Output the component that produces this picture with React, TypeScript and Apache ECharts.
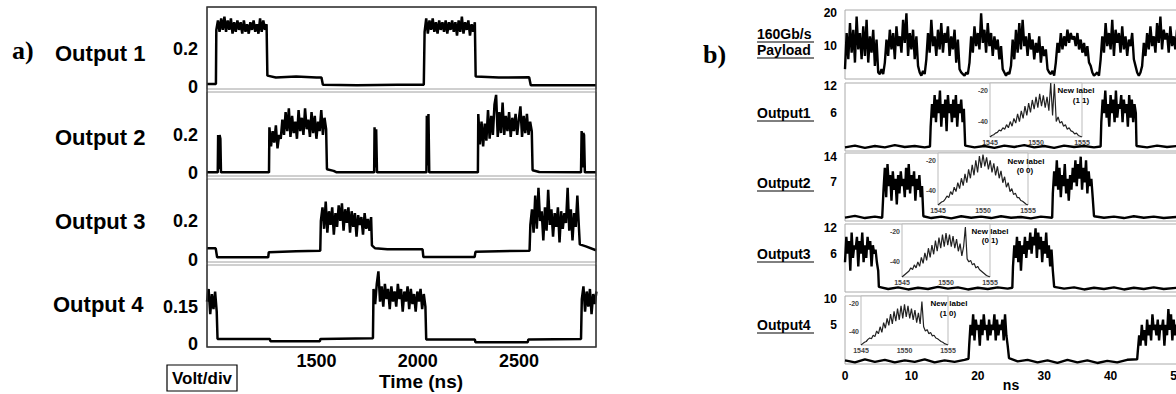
import React, { useEffect, useRef } from 'react';
import * as echarts from 'echarts';

type Pt = [number, number];
type Block = { t0: number; dt: number; v: number[] };
type Piece = Pt[] | Block;

// ---------------- Panel a) : time (ns) vs Volt ----------------
const A_X_LABELS = [1500, 2000, 2500];
const A_Y_LABELS = [[0, 0.2], [0, 0.2], [0, 0.2], [0, 0.15]];

const A1_ON1 = [0.30,0.35,0.29,0.36,0.30,0.37,0.29,0.35,0.30,0.36,0.28,0.34,0.29,0.35,0.30,0.34,0.28,0.35,0.29,0.33,0.28,0.34,0.30,0.35,0.29,0.33,0.28,0.36,0.29,0.35,0.30,0.33];
const A1_ON2 = [0.29,0.36,0.28,0.35,0.30,0.36,0.29,0.34,0.28,0.35,0.30,0.34,0.29,0.35,0.28,0.34,0.30,0.35,0.29,0.34,0.27,0.35,0.29,0.37,0.28,0.34,0.30,0.35,0.27,0.33,0.29,0.34];
const OUT_A1: Piece[] = [
  [[960,0.016],[1004,0.016]],
  { t0: 1006, dt: 8, v: A1_ON1 },
  [[1258,0.06],[1300,0.05],[1400,0.055],[1500,0.05],[1525,0.05],[1532,0.012],[1700,0.01],[1900,0.012],[2030,0.012]],
  { t0: 2034, dt: 8, v: A1_ON2 },
  [[2286,0.055],[2400,0.05],[2550,0.052],[2558,0.01],[2880,0.01]],
];

const A2_ON1 = [0.24,0.14,0.22,0.16,0.25,0.13,0.20,0.18,0.28,0.20,0.32,0.22,0.34,0.19,0.30,0.21,0.27,0.18,0.33,0.22,0.29,0.20,0.34,0.23,0.28,0.19,0.32,0.21,0.30,0.18,0.27,0.22,0.33,0.20,0.29,0.23];
const A2_ON2 = [0.31,0.15,0.27,0.14,0.26,0.17,0.33,0.18,0.30,0.20,0.36,0.41,0.19,0.32,0.21,0.37,0.20,0.30,0.22,0.32,0.19,0.29,0.22,0.31,0.20,0.28,0.35,0.19,0.30,0.21,0.31,0.20,0.27,0.22];
const OUT_A2: Piece[] = [
  [[960,0.004],[1013,0.004],[1015,0.2],[1018,0.02],[1022,0.2],[1026,0.18],[1029,0.004],[1266,0.004]],
  { t0: 1268, dt: 8, v: A2_ON1 },
  [[1552,0.02],[1585,0.012],[1600,0.004],[1785,0.004],[1787,0.24],[1791,0.03],[1795,0.23],[1799,0.004],
   [2043,0.004],[2045,0.30],[2049,0.04],[2053,0.31],[2057,0.004],[2297,0.004]],
  { t0: 2299, dt: 8, v: A2_ON2 },
  [[2567,0.015],[2600,0.006],[2806,0.004],[2809,0.22],[2813,0.03],[2817,0.21],[2821,0.20],[2825,0.004],[2880,0.004]],
];

const A3_ON1 = [0.20,0.27,0.16,0.30,0.14,0.25,0.18,0.27,0.13,0.24,0.17,0.28,0.20,0.29,0.15,0.26,0.19,0.27,0.14,0.25,0.17,0.24,0.12,0.23,0.18,0.22,0.13,0.24,0.16,0.21,0.15,0.22];
const A3_ON2 = [0.18,0.26,0.14,0.33,0.16,0.37,0.20,0.25,0.10,0.27,0.15,0.36,0.18,0.26,0.12,0.24,0.17,0.27,0.09,0.25,0.16,0.24,0.19,0.37,0.15,0.26,0.10,0.24,0.17,0.33,0.16];
const OUT_A3: Piece[] = [
  [[960,0.06],[1003,0.06],[1010,0.014],[1262,0.014],[1265,0.04],[1400,0.045],[1519,0.048]],
  { t0: 1522, dt: 8, v: A3_ON1 },
  [[1774,0.075],[1790,0.06],[1850,0.055],[2024,0.055],[2028,0.015],[2281,0.015],[2285,0.042],[2400,0.045],[2552,0.048]],
  { t0: 2556, dt: 8, v: A3_ON2 },
  [[2800,0.08],[2830,0.07],[2880,0.05]],
];

const A4_ON0 = [0.17,0.22,0.12,0.20,0.14,0.21,0.13];
const A4_ON1 = [0.22,0.16,0.24,0.29,0.17,0.23,0.15,0.24,0.18,0.22,0.14,0.23,0.17,0.21,0.15,0.24,0.18,0.22,0.13,0.21,0.17,0.23,0.14,0.22,0.16,0.20,0.13,0.21,0.17,0.22,0.14,0.20,0.15];
const A4_ON2 = [0.18,0.23,0.13,0.21,0.15,0.22,0.12,0.20,0.16,0.21];
const OUT_A4: Piece[] = [
  { t0: 960, dt: 8, v: A4_ON0 },
  [[1012,0.022],[1270,0.022],[1273,0.013],[1517,0.013],[1520,0.022],[1779,0.025]],
  { t0: 1782, dt: 8, v: A4_ON1 },
  [[2042,0.02],[2282,0.02],[2285,0.009],[2543,0.009],[2546,0.02],[2806,0.022]],
  { t0: 2810, dt: 8, v: A4_ON2 },
];

// ---------------- Panel b) : time (ns) ----------------
const B_X_LABELS = [0, 10, 20, 30, 40, 50];
const B_Y_LABELS = [[10, 20], [6, 12], [7, 14], [6, 12], [5, 10]];

const PAYLOAD = [
  3,14,6,17,8,15,5,19,9,14,6,16,7,18,5,13,8,15,4,12,
  2,1.5,3,1.5,
  5,12,7,15,9,14,6,16,10,13,8,18,11,20,7,14,9,15,6,13,4,
  2,1,2.5,1.5,
  6,14,8,18,10,13,7,15,9,17,8,14,11,16,7,13,9,15,5,12,3,
  2,1.5,1,2,1.5,
  5,13,8,16,10,14,9,20,11,15,8,17,10,14,7,13,9,12,6,10,3,
  2,1,2,1.5,
  4,12,6,15,8,17,9,18,10,13,7,14,9,12,6,11,8,13,5,10,7,9,3,
  2,1.5,2.5,1,
  5,11,8,14,9,13,10,15,11,14,12,13,10,14,9,12,8,11,7,10,5,4,
  2,1,1.5,2,1,
  6,13,8,17,10,14,9,18,7,15,11,14,8,16,9,13,7,12,10,14,6,4,
  2,1,2,
  4,11,7,14,9,16,10,13,8,17,11,19,9,15,12,14,8,16,10,13,9,15,
];
const OUT_B0: Piece[] = [{ t0: 0, dt: 0.25, v: PAYLOAD }];

const B1_ON1 = [3,8,5,10,4,9,6,11,3,8,5,9,2,10,6,8,4,9,5,10,3,8,6,9,4,7];
const B1_ON2 = [4,9,6,11,5,8,3,10,6,9,4,11,5,8,7,10,4,9,6,8,3,10,5,9,4,8,6];
const OUT_B1: Piece[] = [
  [[0,-1.6],[1.5,-1.2],[3,-1.7],[4.5,-1.3],[6,-1.6],[7.5,-1.1],[9,-1.5],[10.5,-1.3],[12,-1.6],[12.8,-1.4]],
  { t0: 12.9, dt: 0.2, v: B1_ON1 },
  [[18.1,-1.2],[19.5,-1.6],[21,-1.3],[22.5,-1.7],[24,-1.2],[25.5,-1.5],[27,-1.1],[28.5,-1.6],[30,-1.3],[31.5,-1.7],[33,-1.2],[34.5,-1.5],[36,-1.3],[37.5,-1.6],[38.5,-1.4]],
  { t0: 38.6, dt: 0.2, v: B1_ON2 },
  [[43.9,-1.3],[45.5,-1.6],[47,-1.2],[48.5,-1.5],[50,-1.3]],
];

const B2_ON1 = [5,11,3,12,6,9,2,10,5,8,1,9,4,10,6,8,3,11,5,12,4,9,6,10,2,8,5,9,3,6];
const B2_ON2 = [4,10,6,13,5,11,3,9,6,12,4,8,2,9,5,11,7,13,6,12,8,14,5,11,7,13,4,10,6,8,3];
const OUT_B2: Piece[] = [
  [[0,-2.6],[1.5,-2.1],[3,-2.7],[4.5,-2.3],[5.6,-2.6]],
  { t0: 5.8, dt: 0.2, v: B2_ON1 },
  [[11.8,-2.2],[13,-2.7],[14.5,-2.3],[16,-2.8],[17.5,-2.2],[19,-2.6],[20.5,-2.3],[22,-2.7],[23.5,-2.2],[25,-2.6],[26.5,-2.4],[28,-2.8],[29.5,-2.3],[31.2,-2.6]],
  { t0: 31.3, dt: 0.2, v: B2_ON2 },
  [[37.5,-2.2],[39,-2.6],[40.5,-2.3],[42,-2.7],[43.5,-2.2],[45,-2.6],[46.5,-2.3],[48,-2.7],[50,-2.4]],
];

const B3_ON1 = [4,10,6,9,2,11,5,8,7,10,3,9,6,11,4,8,5,10,7,9,3,8,6,7,4,2];
const B3_ON2 = [3,8,5,10,4,9,2,8,6,10,5,9,7,11,6,10,8,12,5,11,7,10,4,9,6,11,5,8,3,7,2];
const OUT_B3: Piece[] = [
  { t0: 0, dt: 0.2, v: B3_ON1 },
  [[5.1,-1.8],[6.5,-2.3],[8,-1.9],[9.5,-2.4],[11,-2.0],[12.5,-2.3],[14,-1.8],[15.5,-2.2],[17,-1.9],[18.5,-2.4],[20,-2.0],[21.5,-2.3],[23,-1.9],[24.5,-2.2],[25.2,-2.0]],
  { t0: 25.3, dt: 0.2, v: B3_ON2 },
  [[31.5,-1.8],[33,-2.2],[34.5,-1.9],[36,-2.4],[37.5,-2.0],[39,-2.3],[40.5,-1.9],[42,-2.4],[43.5,-2.0],[45,-2.3],[46.5,-1.9],[48,-2.3],[50,-2.0]],
];

const B4_ON1 = [1,5,3,7,2,6,4,5,1,6,3,7,4,5,2,6,3,5,4,7,2,6,3,5,4,6,2,7,3,1];
const B4_ON2 = [0,3,1,5,2,4,1,6,3,5,2,7,4,5,3,6,2,5,4,6,1,5,3,8,4,7,2,6,3,5,4];
const OUT_B4: Piece[] = [
  [[0,-1.8],[1.5,-2.2],[3,-1.6],[4.5,-2.1],[6,-1.7],[7.5,-2.2],[9,-1.8],[10.5,-2.1],[12,-1.6],[13.5,-2.2],[15,-1.8],[16.5,-2.1],[18,-1.7],[18.6,-1.5]],
  { t0: 18.7, dt: 0.2, v: B4_ON1 },
  [[24.7,-1.4],[26,-2.0],[27.5,-1.7],[29,-2.2],[30.5,-1.8],[32,-2.3],[33.5,-1.7],[35,-2.2],[36.5,-1.8],[38,-2.3],[39.5,-1.9],[41,-2.2],[42.5,-1.7],[44,-1.6]],
  { t0: 44.1, dt: 0.2, v: B4_ON2 },
];

// ---------------- Inset spectra: wavelength (nm) vs dB ----------------
const SPEC_X_LABELS = [1545, 1550, 1555];
const SPEC_Y_LABELS = [-20, -40];
const SPEC_1 = [-50,-49,-48.5,-47.5,-47,-45.5,-46,-44,-45,-42,-44,-40,-43,-38,-41,-35,-40,-33,-38,-30,-36,-28,-34,-26,-32,-24,-31,-22,-30,-23,-31,-24,-33,-15,-36,-15.5,-40,-37,-41,-40,-43,-42,-45,-44,-46,-46.5,-48,-47.5,-49,-49.5,-50];
const SPEC_2 = [-50,-49,-48,-47.5,-46,-44,-45,-41,-43,-38,-41,-35,-39,-32,-37,-29,-35,-26,-32,-23,-30,-20,-28,-17,-25,-16,-24,-18,-26,-20,-28,-22,-30,-24,-32,-27,-35,-31,-38,-35,-41,-39,-43,-42,-45,-45,-47,-47.5,-48.5,-49.5,-50];
const SPEC_3 = [-50,-49,-48,-47,-46,-44,-45,-42,-44,-40,-43,-37,-41,-34,-39,-31,-37,-29,-35,-26,-33,-24,-31,-22,-30,-21,-29,-22,-30,-23,-31,-25,-33,-28,-36,-30,-17,-38,-40,-39,-42,-41,-44,-43,-45,-46,-47,-48,-49,-49.5,-50];
const SPEC_4 = [-50,-49,-48,-47.5,-46,-45,-45.5,-43,-44,-40,-42,-37,-41,-34,-38,-31,-36,-28,-35,-26,-33,-24,-32,-22,-31,-21,-30,-22,-31,-24,-32,-25,-34,-27,-35,-19,-37,-40,-39,-42,-41,-43.5,-43,-45,-45.5,-46.5,-47.5,-48,-49,-49.5,-50];
const SPEC_START = 1545;
const SPEC_STEP = 0.2;
const SPEC_TAGS = ['(1 1)', '(0 0)', '(0 1)', '(1 0)'];

function build(pieces: Piece[]): Pt[] {
  const out: Pt[] = [];
  for (const p of pieces) {
    if (Array.isArray(p)) out.push(...p);
    else p.v.forEach((y, i) => out.push([Math.round((p.t0 + i * p.dt) * 1000) / 1000, y]));
  }
  return out;
}

const SANS = 'Liberation Sans, Arial, sans-serif';
const SERIF = 'Liberation Serif, Times New Roman, serif';

const pick = (vals: number[]) => (v: number) => {
  const h = vals.find((x) => Math.abs(x - v) < 1e-6);
  return h === undefined ? '' : String(h);
};

export default function App() {
  const ref = useRef<HTMLDivElement>(null);
  useEffect(() => {
    if (!ref.current) return;
    const chart = echarts.init(ref.current, undefined, { renderer: 'svg' });

    const grids: any[] = [];
    const xAxes: any[] = [];
    const yAxes: any[] = [];
    const series: any[] = [];

    const baseGrid = { show: true, containLabel: false, outerBoundsMode: 'none', backgroundColor: 'transparent' };
    const noLines = { axisLine: { show: false }, axisTick: { show: false }, splitLine: { show: false } };

    // panel a)
    const aGrid = [
      { top: 7, height: 82 }, { top: 92, height: 84 }, { top: 179, height: 83 }, { top: 265, height: 82 },
    ];
    const aY = [
      { min: -0.01, max: 0.42, interval: 0.01 },
      { min: -0.015, max: 0.425, interval: 0.005 },
      { min: -0.01, max: 0.415, interval: 0.01 },
      { min: -0.01, max: 0.315, interval: 0.005 },
    ];
    const aData = [OUT_A1, OUT_A2, OUT_A3, OUT_A4];
    aGrid.forEach((g, i) => {
      const gi = grids.length;
      grids.push({ ...baseGrid, left: 207, width: 389, top: g.top, height: g.height, borderColor: '#a0a0a0', borderWidth: 1 });
      xAxes.push({
        type: 'value', gridIndex: gi, min: 960, max: 2880, interval: 20, ...noLines,
        axisLabel: i === 3
          ? { show: true, formatter: pick(A_X_LABELS), fontSize: 18, fontWeight: 'bold', fontFamily: SANS, color: '#000', margin: 5 }
          : { show: false },
      });
      yAxes.push({
        type: 'value', gridIndex: gi, ...aY[i], ...noLines,
        axisLabel: { formatter: pick(A_Y_LABELS[i]), fontSize: 18, fontWeight: 'bold', fontFamily: SANS, color: '#000', margin: 9 },
      });
      series.push({
        type: 'line', xAxisIndex: gi, yAxisIndex: gi, data: build(aData[i]), showSymbol: false,
        lineStyle: { color: '#000', width: 2.5 }, itemStyle: { color: '#000' }, silent: true,
      });
    });

    // panel b)
    const bGrid = [
      { top: 10, height: 69 }, { top: 83, height: 68 }, { top: 153, height: 68 }, { top: 224, height: 68 }, { top: 296, height: 68 },
    ];
    const bY = [
      { min: 0, max: 21, interval: 10 },
      { min: -2.4, max: 12.7, interval: 0.6 },
      { min: -3.5, max: 15, interval: 0.7 },
      { min: -3, max: 13, interval: 0.6 },
      { min: -2.5, max: 10.5, interval: 0.5 },
    ];
    const bData = [OUT_B0, OUT_B1, OUT_B2, OUT_B3, OUT_B4];
    bGrid.forEach((g, i) => {
      const gi = grids.length;
      grids.push({ ...baseGrid, left: 845, width: 332, top: g.top, height: g.height, borderColor: '#aaaaaa', borderWidth: 1 });
      xAxes.push({
        type: 'value', gridIndex: gi, min: 0, max: 50, interval: 10, ...noLines,
        axisLabel: i === 4
          ? { show: true, formatter: pick(B_X_LABELS), fontSize: 12, fontWeight: 'bold', fontFamily: SANS, color: '#000', margin: 6 }
          : { show: false },
      });
      yAxes.push({
        type: 'value', gridIndex: gi, ...bY[i], ...noLines,
        axisLabel: { formatter: pick(B_Y_LABELS[i]), fontSize: 12, fontWeight: 'bold', fontFamily: SANS, color: '#000', margin: 8 },
      });
      series.push({
        type: 'line', xAxisIndex: gi, yAxisIndex: gi, data: build(bData[i]), showSymbol: false,
        lineStyle: { color: '#000', width: 2.4 }, itemStyle: { color: '#000' }, silent: true,
      });
    });

    // insets
    const insets = [
      { left: 990, top: 83, width: 92, height: 54 },
      { left: 938, top: 153, width: 90, height: 52 },
      { left: 902, top: 224, width: 88, height: 53 },
      { left: 861, top: 296, width: 87, height: 49 },
    ];
    const specs = [SPEC_1, SPEC_2, SPEC_3, SPEC_4];
    insets.forEach((g, i) => {
      const gi = grids.length;
      grids.push({ ...baseGrid, ...g, backgroundColor: '#fff', borderColor: '#bbbbbb', borderWidth: 1 });
      xAxes.push({
        type: 'value', gridIndex: gi, min: 1545, max: 1555, interval: 5, ...noLines,
        axisLabel: { formatter: pick(SPEC_X_LABELS), fontSize: 7, fontWeight: 'bold', fontFamily: SANS, color: '#444', margin: 2 },
      });
      yAxes.push({
        type: 'value', gridIndex: gi, min: -50, max: -15, interval: 5, ...noLines,
        axisLabel: { formatter: pick(SPEC_Y_LABELS), fontSize: 7, fontWeight: 'bold', fontFamily: SANS, color: '#444', margin: 2 },
      });
      series.push({
        type: 'line', xAxisIndex: gi, yAxisIndex: gi, showSymbol: false, silent: true,
        data: specs[i].map((v, k) => [Math.round((SPEC_START + k * SPEC_STEP) * 100) / 100, v]),
        lineStyle: { color: '#222', width: 1.2 }, itemStyle: { color: '#222' },
      });
    });

    const txt = (text: string, x: number, y: number, size: number, align = 'left', family = SANS) => ({
      type: 'text', x, y, z: 100, silent: true,
      style: { text, fontSize: size, fontWeight: 'bold', fontFamily: family, fill: '#000', align, verticalAlign: 'middle' },
    });
    const uline = (x1: number, x2: number, y: number) => ({
      type: 'line', z: 100, silent: true, shape: { x1, y1: y, x2, y2: y }, style: { stroke: '#000', lineWidth: 1 },
    });

    const newLabelPos = [
      [1076, 90, 1081, 100], [1026, 161, 1025, 170], [990, 231, 990, 240], [949, 303, 948, 313],
    ];

    const graphic: any[] = [
      { type: 'rect', z: 100, silent: true, shape: { x: 207, y: 7, width: 389, height: 340 }, style: { fill: 'none', stroke: '#333', lineWidth: 1.5 } },
      txt('a)', 12, 50, 26, 'left', SERIF),
      txt('Output 1', 55, 53, 22),
      txt('Output 2', 55, 137, 22),
      txt('Output 3', 55, 221, 22),
      txt('Output 4', 53, 304, 22),
      { type: 'rect', z: 100, silent: true, shape: { x: 167, y: 365, width: 70, height: 26 }, style: { fill: 'none', stroke: '#000', lineWidth: 1.2 } },
      txt('Volt/div', 202, 378, 17, 'center'),
      txt('Time (ns)', 421, 381, 19, 'center'),
      txt('b)', 703, 54, 26, 'left', SERIF),
      txt('ns', 1011, 385, 14, 'center'),
      txt('160Gb/s', 757, 34, 14), uline(757, 814, 42),
      txt('Payload', 757, 50, 14), uline(757, 814, 58),
      txt('Output1', 757, 113, 14), uline(757, 814, 121),
      txt('Output2', 757, 183, 14), uline(757, 814, 191),
      txt('Output3', 757, 254, 14), uline(757, 814, 262),
      txt('Output4', 757, 325, 14), uline(757, 814, 333),
    ];
    newLabelPos.forEach((p, i) => {
      graphic.push(txt('New label', p[0], p[1], 8, 'center'));
      graphic.push(txt(SPEC_TAGS[i], p[2], p[3], 8, 'center'));
    });

    chart.setOption({
      animation: false,
      backgroundColor: '#fff',
      grid: grids,
      xAxis: xAxes,
      yAxis: yAxes,
      series,
      graphic,
    });
    return () => chart.dispose();
  }, []);
  return <div ref={ref} style={{ position: 'absolute', left: 0, top: 0, width: 1176, height: 394 }} />;
}
